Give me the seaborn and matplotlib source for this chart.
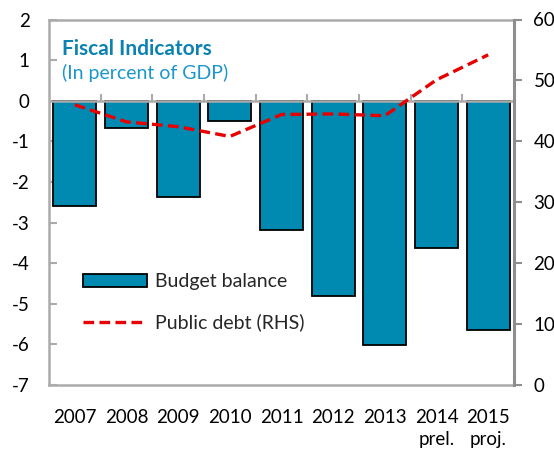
import numpy as np
import pandas as pd
import matplotlib
matplotlib.use("Agg")
import matplotlib.pyplot as plt
import seaborn as sns

# Data
years = ["2007", "2008", "2009", "2010", "2011", "2012", "2013", "2014", "2015"]
budget_balance = [-2.6, -0.67, -2.38, -0.49, -3.18, -4.8, -6.02, -3.63, -5.65]
public_debt = [46.0, 43.2, 42.4, 40.8, 44.4, 44.5, 44.2, 50.1, 54.2]
tick_labels = ["2007", "2008", "2009", "2010", "2011", "2012", "2013",
               "2014\nprel.", "2015\nproj."]
left_ticks = [2, 1, 0, -1, -2, -3, -4, -5, -6, -7]
right_ticks = [0, 10, 20, 30, 40, 50, 60]

sns.set_theme(style="white")
plt.rcParams["font.family"] = ["Lato", "DejaVu Sans"]

BAR = "#0089B1"
RED = "#E60000"
GREY = "#ABABAB"
DARK_GREY = "#8E8E8E"

df = pd.DataFrame({"year": years, "balance": budget_balance, "debt": public_debt})

fig = plt.figure(figsize=(5.54, 4.51), dpi=100)
ax = fig.add_axes([49 / 554, 1 - 385 / 451, 465 / 554, 365.5 / 451])

sns.barplot(data=df, x="year", y="balance", color=BAR, saturation=1,
            width=0.83, edgecolor="black", linewidth=1.3,
            label="Budget balance", ax=ax, zorder=2)

ax.set_ylim(-7, 2)
ax.set_xlim(-0.5, len(years) - 0.5)
ax.set_yticks(left_ticks)
ax.set_yticklabels([str(t) for t in left_ticks])
ax.set_xticks(range(len(years)))
ax.set_xticklabels(tick_labels, linespacing=1.4)
ax.set_xlabel("")
ax.set_ylabel("")
ax.tick_params(axis="y", direction="in", length=6, width=1.5, color=GREY,
               labelsize=13.5, pad=14, labelcolor="black")
ax.tick_params(axis="x", length=0, labelsize=13.5, pad=17, labelcolor="black")

# zero line with category separators
ax.axhline(0, color=GREY, lw=1.8, zorder=3)
bounds = np.arange(len(years) - 1) + 0.5
ax.vlines(bounds, 0, 0.17, color=GREY, lw=1.5, zorder=3)

for side in ["left", "bottom", "top"]:
    ax.spines[side].set_color(GREY)
    ax.spines[side].set_linewidth(1.8)
ax.spines["right"].set_visible(False)

ax2 = ax.twinx()
sns.lineplot(data=df, x="year", y="debt", color=RED, lw=2.4,
             linestyle=(0, (3.2, 1.6)), label="Public debt (RHS)",
             ax=ax2, sort=False)
ax2.set_ylim(0, 60)
ax2.set_yticks(right_ticks)
ax2.set_ylabel("")
ax2.tick_params(axis="y", direction="out", length=6, width=1.5, color=DARK_GREY,
                labelsize=13.5, pad=8, labelcolor="black")
for side in ["left", "bottom", "top"]:
    ax2.spines[side].set_visible(False)
ax2.spines["right"].set_color(DARK_GREY)
ax2.spines["right"].set_linewidth(2.2)

h1, l1 = ax.get_legend_handles_labels()
h2, l2 = ax2.get_legend_handles_labels()
if ax2.get_legend() is not None:
    ax2.get_legend().remove()
if ax.get_legend() is not None:
    ax.get_legend().remove()
leg = ax2.legend(h1 + h2, l1 + l2, loc="center left",
                 bbox_to_anchor=(0.074, 0.226), frameon=False,
                 fontsize=14, handlelength=3.25, handleheight=0.6,
                 handletextpad=0.45, labelspacing=1.2,
                 borderpad=0, borderaxespad=0)

ax.text(0.028, 0.948, "Fiscal Indicators", transform=ax.transAxes,
        fontsize=15, fontweight="bold", color="#0B82B1", va="top", ha="left")
ax.text(0.028, 0.878, "(In percent of GDP)", transform=ax.transAxes,
        fontsize=14, color="#1C96CC", va="top", ha="left")

fig.savefig("out.png", dpi=100)
